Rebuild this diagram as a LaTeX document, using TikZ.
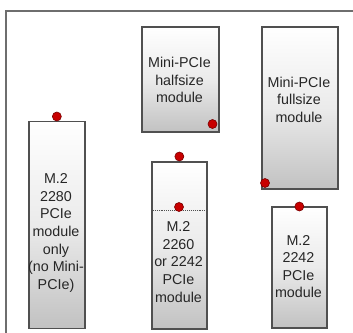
\documentclass[tikz,border=0pt]{standalone}
\usepackage{fontspec}
\setmainfont{Liberation Sans}
\usetikzlibrary{positioning}
\definecolor{framegray}{RGB}{110,110,110}
\definecolor{boxline}{RGB}{80,80,80}
\definecolor{dotred}{RGB}{200,0,0}
\tikzset{
  slot/.style={rectangle, draw=boxline, line width=1.7pt, inner sep=0pt,
    top color=white, bottom color=black!24, middle color=black!8, anchor=north west},
  lbl/.style={align=center, font=\fontsize{14.3}{17.6}\selectfont, text=black!85, inner sep=0pt},
  pin/.style={fill=dotred, draw=dotred!60!black, line width=0.6pt}
}
\begin{document}
\begin{tikzpicture}[x=1pt, y=-1pt]
    \useasboundingbox (0,0) rectangle (353,332);

    % Outer frame
    \coordinate (F1) at (5.5,340);
    \coordinate (F2) at (5.5,10.5);
    \coordinate (F3) at (360,10.5);
    \draw[framegray, line width=2pt] (F1) -- (F2) -- (F3);

    % Slots
    \node[slot, minimum width=56pt, minimum height=207pt] (m2l) at (28,120.5) {};
    \node[slot, minimum width=77pt, minimum height=105pt] (mph) at (141,26) {};
    \node[slot, minimum width=55pt, minimum height=167pt] (m2m) at (151,161) {};
    \node[slot, minimum width=76pt, minimum height=162pt] (mpf) at (261,26) {};
    \node[slot, minimum width=55pt, minimum height=121pt] (m2s) at (271,206) {};

    % Labels
    \node[lbl] (tl) at (56,233) {M.2\\2280\\PCIe\\module\\only\\(no Mini-\\PCIe)};
    \node[lbl] (th) at (179.5,80) {Mini-PCIe\\halfsize\\module};
    \node[lbl] (tm) at (178.5,262) {M.2\\2260\\or 2242\\PCIe\\module};
    \node[lbl] (tf) at (299,99.5) {Mini-PCIe\\fullsize\\module};
    \node[lbl] (ts) at (298.5,266.5) {M.2\\2242\\PCIe\\module};

    % Dotted cut line in the middle slot
    \coordinate (C1) at (151,210.5);
    \coordinate (C2) at (206,210.5);
    \draw[boxline, densely dotted, line width=0.9pt] (C1) -- (C2);

    % Mounting points
    \fill[pin] (m2l.north) ++(0,-4) circle (4.5pt);
    \fill[pin] (212.5,124) circle (4.5pt);
    \fill[pin] (m2m.north) ++(0,-4.5) circle (4.5pt);
    \fill[pin] (179,207) circle (4.5pt);
    \fill[pin] (265,183) circle (4.5pt);
    \fill[pin] (m2s.north) ++(0,0.5) circle (4.5pt);
\end{tikzpicture}
\end{document}
